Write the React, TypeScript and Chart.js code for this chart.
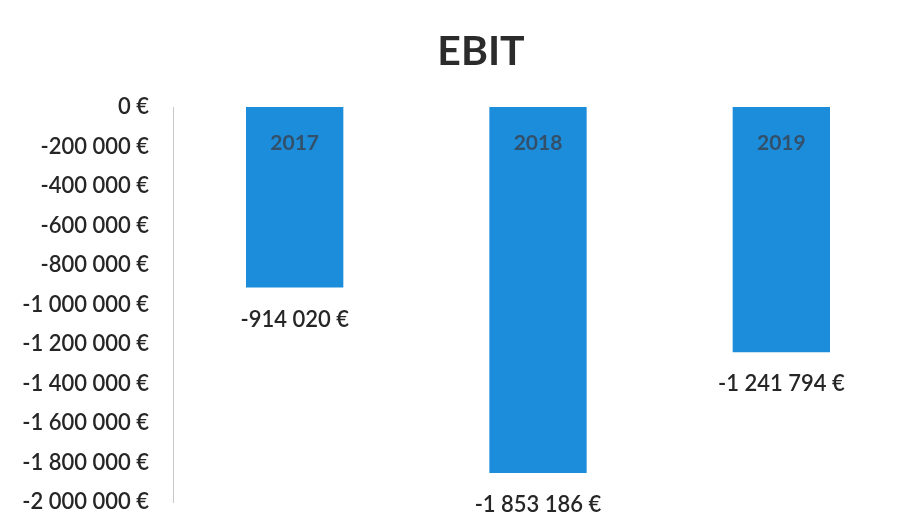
import React, { useEffect, useRef } from "react";
import { Chart, registerables } from "chart.js";

Chart.register(...registerables);

const categories: string[] = ["2017", "2018", "2019"];
const ebitValues: number[] = [-914020, -1853186, -1241794];
const yMin = -2000000;
const yMax = 0;
const yStep = 200000;
const chartTitle = "EBIT";

function formatEuro(v: number): string {
  const neg = v < 0;
  const s = Math.round(Math.abs(v)).toString();
  const parts: string[] = [];
  for (let i = s.length; i > 0; i -= 3) {
    parts.unshift(s.substring(Math.max(0, i - 3), i));
  }
  return (neg ? "-" : "") + parts.join(" ") + " €";
}

const FONT = "Lato, 'Open Sans', sans-serif";

const labelsPlugin = {
  id: "ebitLabels",
  afterDatasetsDraw(chart: any) {
    const ctx = chart.ctx;
    const meta = chart.getDatasetMeta(0);
    const area = chart.chartArea;
    ctx.save();
    // title
    ctx.fillStyle = "#2b2b2b";
    ctx.font = `bold 41px ${FONT}`;
    ctx.textAlign = "center";
    ctx.textBaseline = "middle";
    ctx.fillText(chartTitle, 481, 52);
    meta.data.forEach((bar: any, i: number) => {
      // category label inside bar near zero line
      ctx.font = `bold 21px ${FONT}`;
      ctx.fillStyle = "#33506a";
      ctx.textAlign = "center";
      ctx.textBaseline = "middle";
      ctx.fillText(categories[i], bar.x, area.top + 36);
      // value label below bar end
      ctx.font = `600 22px ${FONT}`;
      ctx.fillStyle = "#262626";
      ctx.fillText(formatEuro(ebitValues[i]), bar.x, bar.y + 32);
    });
    ctx.restore();
  },
};

export default function App() {
  const canvasRef = useRef<HTMLCanvasElement | null>(null);

  useEffect(() => {
    document.body.style.margin = "0";
    document.body.style.background = "#ffffff";
    const canvas = canvasRef.current;
    if (!canvas) return;
    const chart = new Chart(canvas, {
      type: "bar",
      data: {
        labels: categories,
        datasets: [
          {
            label: chartTitle,
            data: ebitValues,
            backgroundColor: "#1c8ddb",
            borderWidth: 0,
            barPercentage: 0.4,
            categoryPercentage: 1,
          },
        ],
      },
      options: {
        responsive: false,
        animation: false,
        devicePixelRatio: 1,
        layout: { padding: { top: 107, right: 21, bottom: 24, left: 0 } },
        plugins: {
          legend: { display: false },
          title: { display: false },
          tooltip: { enabled: false },
        },
        scales: {
          x: {
            display: false,
            offset: true,
          },
          y: {
            min: yMin,
            max: yMax,
            afterFit(scale: any) {
              scale.width = 173;
              scale.paddingTop = 0;
              scale.paddingBottom = 0;
            },
            ticks: {
              stepSize: yStep,
              padding: 24,
              color: "#262626",
              font: { family: FONT, size: 22, weight: "600" },
              callback: (v: any) => formatEuro(Number(v)),
            },
            grid: { display: false, drawTicks: false },
            border: { display: true, color: "#c8c8c8", width: 1 },
          },
        },
      },
      plugins: [labelsPlugin],
    });
    return () => chart.destroy();
  }, []);

  return (
    <div style={{ width: 924, height: 526, background: "#fff" }}>
      <canvas ref={canvasRef} width={924} height={526} />
    </div>
  );
}
